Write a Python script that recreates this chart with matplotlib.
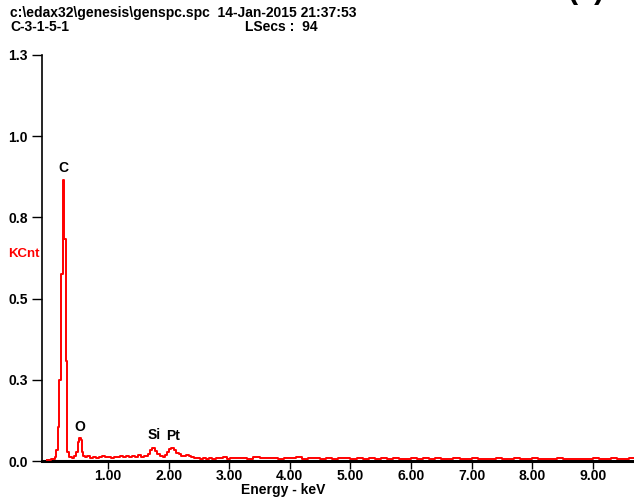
import numpy as np
import matplotlib
matplotlib.use("Agg")
import matplotlib.pyplot as plt
from matplotlib.ticker import FixedLocator, FormatStrFormatter

# spectrum (keV, KCnt), step drawn
energy = [0.00, 0.06, 0.12, 0.14, 0.17, 0.20, 0.23, 0.26, 0.28, 0.30, 0.33, 0.36,
          0.40, 0.44, 0.48, 0.50, 0.52, 0.55, 0.57, 0.59, 0.62, 0.66, 0.70, 0.75,
          0.80, 0.85, 0.90, 0.95, 1.00, 1.05, 1.10, 1.15, 1.20, 1.25, 1.30, 1.35,
          1.40, 1.45, 1.50, 1.55, 1.60, 1.66, 1.70, 1.73, 1.78, 1.81, 1.85, 1.90,
          1.94, 1.98, 2.01, 2.04, 2.09, 2.13, 2.17, 2.21, 2.25, 2.29, 2.33, 2.37,
          2.42, 2.47, 2.52, 2.57, 2.62, 2.67, 2.72, 2.78, 2.84, 2.90, 2.96, 3.02,
          3.10, 3.20, 3.30, 3.40, 3.50, 3.60, 3.70, 3.80, 3.90, 4.00, 4.10, 4.20,
          4.30, 4.40, 4.50, 4.60, 4.70, 4.80, 4.90, 5.00, 5.10, 5.20, 5.30, 5.40,
          5.50, 5.60, 5.70, 5.80, 5.90, 6.00, 6.10, 6.20, 6.30, 6.40, 6.50, 6.60,
          6.70, 6.80, 6.90, 7.00, 7.10, 7.20, 7.30, 7.40, 7.50, 7.60, 7.70, 7.80,
          7.90, 8.00, 8.10, 8.20, 8.30, 8.40, 8.50, 8.60, 8.70, 8.80, 8.90, 9.00,
          9.10, 9.20, 9.30, 9.40, 9.50, 9.60, 9.70]
kcnt = [0.004, 0.006, 0.012, 0.035, 0.11, 0.26, 0.60, 0.90, 0.71, 0.32, 0.03, 0.012,
        0.010, 0.015, 0.030, 0.060, 0.075, 0.068, 0.030, 0.015, 0.012, 0.015, 0.010, 0.014,
        0.009, 0.013, 0.016, 0.012, 0.014, 0.011, 0.013, 0.012, 0.015, 0.013, 0.016, 0.012,
        0.017, 0.013, 0.018, 0.014, 0.016, 0.024, 0.035, 0.043, 0.033, 0.022, 0.016, 0.014,
        0.018, 0.030, 0.038, 0.042, 0.036, 0.027, 0.021, 0.017, 0.015, 0.020, 0.017, 0.012,
        0.009, 0.010, 0.007, 0.009, 0.008, 0.010, 0.008, 0.011, 0.009, 0.012, 0.008, 0.010,
        0.009, 0.011, 0.008, 0.012, 0.009, 0.011, 0.010, 0.008, 0.011, 0.009, 0.012, 0.008,
        0.010, 0.011, 0.008, 0.010, 0.007, 0.011, 0.009, 0.008, 0.010, 0.008, 0.009, 0.007,
        0.010, 0.008, 0.009, 0.007, 0.008, 0.010, 0.007, 0.009, 0.008, 0.010, 0.007, 0.008,
        0.009, 0.007, 0.008, 0.010, 0.007, 0.008, 0.007, 0.009, 0.008, 0.007, 0.009, 0.008,
        0.007, 0.009, 0.007, 0.008, 0.007, 0.009, 0.007, 0.008, 0.007, 0.008, 0.007, 0.009,
        0.007, 0.008, 0.009, 0.007, 0.008, 0.009, 0.008]

peak_names = ["C", "O", "Si", "Pt"]
peak_x = [0.27, 0.53, 1.76, 2.07]
peak_y = [0.915, 0.085, 0.06, 0.057]

x_ticks = [1, 2, 3, 4, 5, 6, 7, 8, 9]
y_ticks = [0.0, 0.26, 0.52, 0.78, 1.04, 1.3]

plt.rcParams['font.family'] = ['Liberation Sans', 'DejaVu Sans']
plt.rcParams['font.weight'] = 'bold'
plt.rcParams['font.size'] = 10

fig = plt.figure(figsize=(6.34, 4.97), dpi=100)
ax = fig.add_axes([0.0662, 0.0724, 0.934, 0.817])

ax.plot(energy, kcnt, color='red', lw=1.4, drawstyle='steps-post', zorder=3)

for name, px, py in zip(peak_names, peak_x, peak_y):
    ax.text(px, py, name, ha='center', va='bottom', fontsize=10, fontweight='bold')

ax.set_xlim(-0.089, 9.68)
ax.set_ylim(0, 1.3)
ax.xaxis.set_major_locator(FixedLocator(x_ticks))
ax.yaxis.set_major_locator(FixedLocator(y_ticks))
ax.xaxis.set_major_formatter(FormatStrFormatter('%.2f'))
ax.yaxis.set_major_formatter(FormatStrFormatter('%.1f'))
ax.tick_params(axis='x', direction='out', length=6, width=1, color='black', pad=0)
ax.tick_params(axis='y', direction='out', length=7, width=1, color='black', pad=3)

for s in ['top', 'right']:
    ax.spines[s].set_visible(False)
ax.spines['left'].set_linewidth(1.2)
ax.spines['bottom'].set_linewidth(2.2)
ax.spines['bottom'].set_zorder(2)

fig.text(0.446, 0.014, 'Energy - keV', ha='center', va='center', fontsize=10, fontweight='bold')
fig.text(0.013, 0.489, 'KCnt', ha='left', va='center', color='red', fontsize=9.5, fontweight='bold')

fig.text(0.016, 0.974, 'c:\\edax32\\genesis\\genspc.spc  14-Jan-2015 21:37:53',
         ha='left', va='center', fontsize=10, fontweight='bold')
fig.text(0.016, 0.946, 'C-3-1-5-1', ha='left', va='center', fontsize=10, fontweight='bold')
fig.text(0.386, 0.946, 'LSecs :  94', ha='left', va='center', fontsize=10, fontweight='bold')
fig.text(0.895, 1.004, '(a)', ha='left', va='baseline', fontsize=22, fontweight='bold')

fig.savefig('out.png', dpi=100)
